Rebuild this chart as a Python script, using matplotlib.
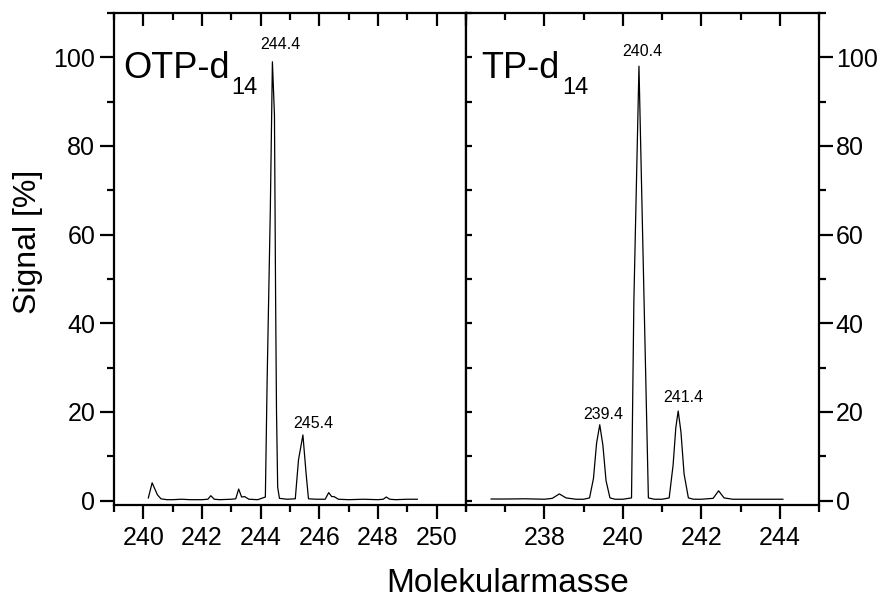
import matplotlib
matplotlib.use("Agg")
import matplotlib.pyplot as plt
from matplotlib.ticker import MultipleLocator

plt.rcParams['font.family'] = ['Liberation Sans', 'DejaVu Sans']

# OTP-d14 spectrum (left panel)
otp_x = [240.17, 240.30, 240.40, 240.48, 240.60, 240.80, 241.00, 241.30, 241.60, 242.00,
         242.20, 242.30, 242.42, 242.60, 243.00, 243.15, 243.25, 243.35, 243.45, 243.60,
         243.90, 244.16, 244.22, 244.33, 244.40, 244.47, 244.51, 244.54, 244.58, 244.64,
         244.90, 245.18, 245.29, 245.44, 245.55, 245.63, 245.90, 246.20, 246.32, 246.42,
         246.50, 246.65, 247.00, 247.50, 248.00, 248.18, 248.28, 248.40, 248.60, 249.00,
         249.34]
otp_y = [0.6, 4.0, 2.5, 1.3, 0.4, 0.2, 0.2, 0.3, 0.2, 0.2,
         0.3, 1.1, 0.3, 0.2, 0.3, 0.4, 2.6, 0.8, 0.9, 0.3,
         0.2, 0.8, 27.0, 66.0, 99.0, 87.0, 45.0, 20.0, 3.0, 0.5,
         0.3, 0.4, 9.2, 14.8, 6.0, 0.4, 0.3, 0.3, 1.8, 0.9,
         0.9, 0.3, 0.2, 0.3, 0.2, 0.3, 0.8, 0.3, 0.2, 0.3,
         0.3]

# TP-d14 spectrum (right panel)
tp_x = [236.64, 237.00, 237.50, 238.00, 238.20, 238.38, 238.55, 238.80, 239.00, 239.15,
        239.25, 239.33, 239.41, 239.49, 239.57, 239.67, 239.80, 240.00, 240.22, 240.28,
        240.41, 240.54, 240.65, 240.80, 241.00, 241.18, 241.28, 241.35, 241.41, 241.48,
        241.56, 241.67, 241.80, 242.00, 242.30, 242.44, 242.58, 242.80, 243.00, 243.50,
        244.08]
tp_y = [0.35, 0.35, 0.4, 0.3, 0.5, 1.5, 0.6, 0.3, 0.3, 0.6,
        5.0, 13.0, 17.1, 12.5, 4.5, 0.6, 0.3, 0.3, 0.6, 45.0,
        98.0, 45.0, 0.6, 0.3, 0.3, 0.6, 8.0, 16.5, 20.2, 15.5,
        6.0, 0.6, 0.3, 0.3, 0.5, 2.2, 0.6, 0.3, 0.3, 0.3,
        0.3]

otp_labels = ["244.4", "245.4"]
otp_label_pos = [(244.66, 101.3), (245.78, 15.8)]
tp_labels = ["239.4", "240.4", "241.4"]
tp_label_pos = [(239.5, 17.8), (240.49, 99.6), (241.53, 21.6)]
otp_ticks = [240, 242, 244, 246, 248, 250]
tp_ticks = [238, 240, 242, 244]

fig = plt.figure(figsize=(8.77, 6.01), dpi=100)
ax1 = fig.add_axes([114 / 877, 1 - 505 / 601, 352 / 877, 492 / 601])
ax2 = fig.add_axes([466 / 877, 1 - 505 / 601, 353 / 877, 492 / 601])

# helper axes: inward top ticks and inward ticks on the shared middle spine
tops = [ax.twiny() for ax in (ax1, ax2)]
left2 = ax2.twinx()

ax1.plot(otp_x, otp_y, color='black', lw=0.9)
ax2.plot(tp_x, tp_y, color='black', lw=0.9)

for lab, (x, y) in zip(otp_labels, otp_label_pos):
    ax1.text(x, y, lab, ha='center', va='bottom', fontsize=11.5)
for lab, (x, y) in zip(tp_labels, tp_label_pos):
    ax2.text(x, y, lab, ha='center', va='bottom', fontsize=11.5)

ax1.set_xlim(239, 251)
ax2.set_xlim(236, 245)
ax1.set_xticks(otp_ticks)
ax2.set_xticks(tp_ticks)
for ax in (ax1, ax2):
    ax.set_ylim(-1, 110)
    ax.xaxis.set_minor_locator(MultipleLocator(1))
    ax.yaxis.set_major_locator(MultipleLocator(20))
    ax.yaxis.set_minor_locator(MultipleLocator(10))
    for sp in ax.spines.values():
        sp.set_linewidth(1.6)
    ax.tick_params(axis='both', which='both', width=1.6, labelsize=18)
    ax.tick_params(axis='x', which='major', direction='out', length=10, pad=5,
                   top=False, bottom=True)
    ax.tick_params(axis='x', which='minor', direction='out', length=5, top=False,
                   bottom=True)

for ax, top in zip((ax1, ax2), tops):
    top.set_xlim(ax.get_xlim())
    top.xaxis.set_major_locator(MultipleLocator(2))
    top.xaxis.set_minor_locator(MultipleLocator(1))
    top.xaxis.tick_top()
    top.tick_params(axis='x', which='major', direction='in', length=9, width=1.6,
                    labeltop=False, labelbottom=False, bottom=False)
    top.tick_params(axis='x', which='minor', direction='in', length=5, width=1.6,
                    bottom=False)
    top.tick_params(axis='y', left=False, right=False, labelleft=False,
                    labelright=False)
    for sp in top.spines.values():
        sp.set_visible(False)

ax1.yaxis.tick_left()
ax1.tick_params(axis='y', which='major', direction='out', length=10, left=True,
                right=False, labelleft=True, labelright=False)
ax1.tick_params(axis='y', which='minor', direction='out', length=5, left=True,
                right=False)

left2.set_ylim(ax2.get_ylim())
left2.yaxis.tick_left()
left2.yaxis.set_major_locator(MultipleLocator(20))
left2.yaxis.set_minor_locator(MultipleLocator(10))
left2.tick_params(axis='y', which='both', direction='in', length=4, width=1.6,
                  labelleft=False, labelright=False, right=False)
for sp in left2.spines.values():
    sp.set_visible(False)

ax2.yaxis.tick_right()
ax2.tick_params(axis='y', which='major', direction='out', length=10, right=True,
                left=False, labelright=True, labelleft=False, pad=2)
ax2.tick_params(axis='y', which='minor', direction='out', length=5, right=True,
                left=False)

# panel names, subscript placed as its own text below the baseline
fig.canvas.draw()
rend = fig.canvas.get_renderer()
for ax, name, fx in ((ax1, 'OTP-d', 0.026), (ax2, 'TP-d', 0.044)):
    t = ax.text(fx, 0.868, name, transform=ax.transAxes, fontsize=26,
                ha='left', va='baseline')
    bb = t.get_window_extent(renderer=rend)
    x_px = bb.x1 + 2
    y_px = ax.transAxes.transform((0, 0.868))[1] - 16
    fig.text(x_px / fig.bbox.width, y_px / fig.bbox.height, '14', fontsize=17,
             ha='left', va='baseline')

fig.text(508 / 877, 1 - 592 / 601, 'Molekularmasse', fontsize=24, ha='center',
         va='baseline')
fig.text(28 / 877, 1 - 241.5 / 601, 'Signal [%]', fontsize=23, rotation=90,
         ha='center', va='center')

fig.savefig('out.png', dpi=100)
